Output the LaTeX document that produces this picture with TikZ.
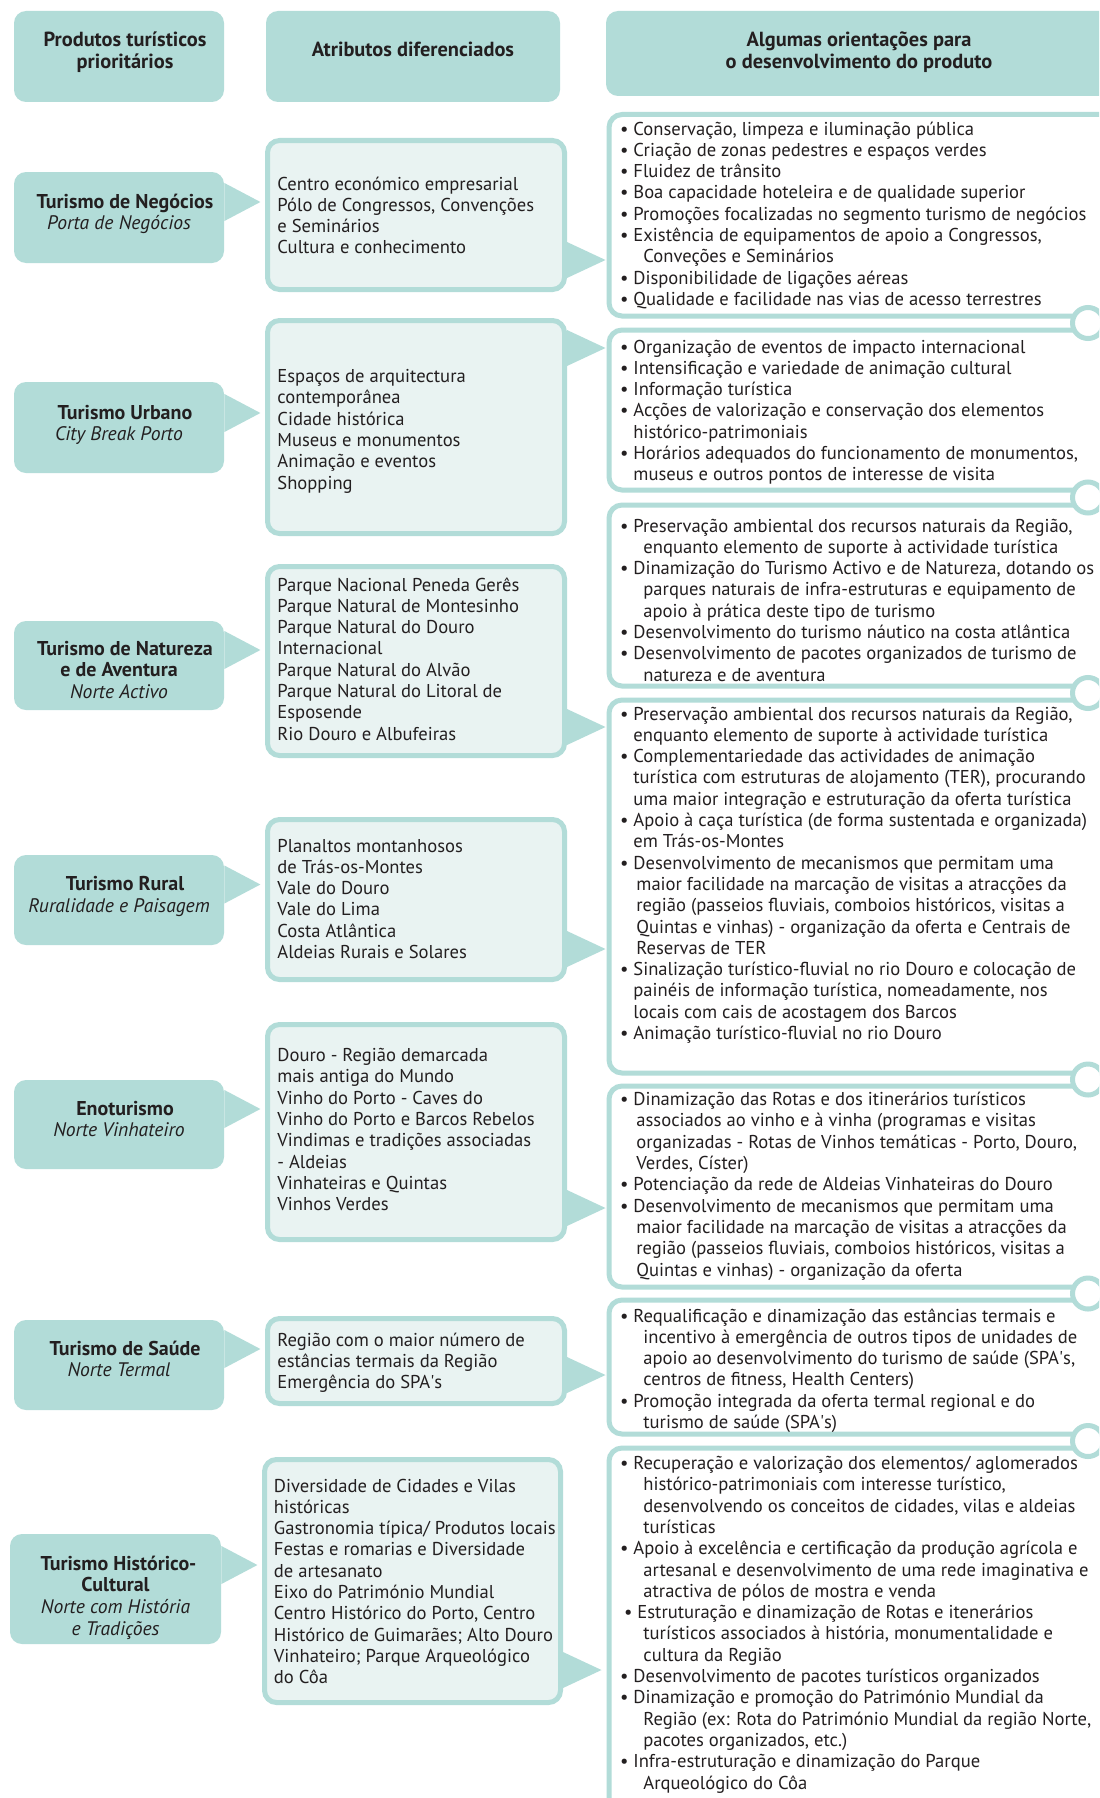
\documentclass[tikz,border=0pt]{standalone}
\usepackage{fontspec}
\setmainfont{PT Sans}
\usetikzlibrary{fit}
\definecolor{teal1}{RGB}{178,220,216}
\definecolor{pale}{RGB}{233,243,242}
\definecolor{ink}{RGB}{35,31,32}
% bullet hanging left of the text start, and continuation indents
\newcommand\bpt{\noindent\llap{\textbullet\hspace{2.5pt}}}
\newcommand\indt[1]{\noindent\hspace*{#1}}
\newcommand\prodname[1]{{\bfseries\fontsize{10}{10.9}\selectfont #1}}
\newcommand\prodtag[1]{{\itshape #1}}
\newcommand\spas{SPA\textquotesingle s}
\begin{document}
\begin{tikzpicture}[x=0.5pt,y=-0.5pt,
  hdr/.style={fill=teal1, rounded corners=6pt, inner sep=0pt},
  prod/.style={fill=teal1, rounded corners=6pt, inner sep=0pt},
  attr/.style={draw=teal1, fill=pale, line width=2.5pt, rounded corners=6pt, inner sep=0pt},
  guide/.style={draw=teal1, fill=white, line width=2.5pt, rounded corners=6.5pt, inner sep=0pt},
  ring/.style={circle, draw=teal1, fill=white, line width=2.5pt, minimum size=15.5pt, inner sep=0pt},
  ptr/.style={fill=teal1},
  % multi-line nodes: the base anchor sits on the baseline of the last line
  htxt/.style={font=\bfseries\fontsize{10.2}{10.75}\selectfont, text=ink, align=center, anchor=base, inner sep=0pt},
  ptxt/.style={font=\fontsize{9.8}{10.9}\selectfont, text=ink, align=center, anchor=base, inner sep=0pt},
  btxt/.style={font=\fontsize{9.3}{10.65}\selectfont, text=ink, align=left, anchor=base west, inner sep=0pt},
]
\useasboundingbox[fill=white] (0,0) rectangle (1099,1798);
\begin{scope}
\clip (0,0) rectangle (1099,1798);

% ---------- column headers
\node[hdr, fit={(14,11)(224,102)}] (h1) {};
\node[hdr, fit={(266,11)(560,102)}] (h2) {};
\node[hdr, fit={(606,11)(1130,96)}] (h3) {};
\node[htxt] (h1t) at (125,68.5) {Produtos turísticos\\prioritários};
\node[htxt] (h2t) at (413,57) {Atributos diferenciados};
\node[htxt] (h3t) at (859,68.5) {Algumas orientações para\\o desenvolvimento do produto};

% ---------- guideline boxes (right column)
\node[guide, fit={(609,114.5)(1130,316)}] (r1) {};
\node[guide, fit={(609,330)(1130,490)}] (r2) {};
\node[guide, fit={(609,505)(1130,686)}] (r3) {};
\node[guide, fit={(609,700)(1130,1073)}] (r4) {};
\node[guide, fit={(609,1086)(1130,1287)}] (r5) {};
\node[guide, fit={(609,1300)(1130,1434)}] (r6) {};
\node[guide, fit={(609,1448)(1130,1850)}] (r7) {};
% binder rings joining the boxes
\node[ring] (j1) at (1088,323) {};
\node[ring] (j2) at (1088,497.5) {};
\node[ring] (j3) at (1088,693) {};
\node[ring] (j4) at (1088,1079.5) {};
\node[ring] (j5) at (1088,1293.5) {};
\node[ring] (j6) at (1088,1441) {};

% ---------- product boxes (left column)
\node[prod, fit={(14,172)(224,263)}] (p1) {};
\node[prod, fit={(14,382)(224,473)}] (p2) {};
\node[prod, fit={(14,621)(224,710)}] (p3) {};
\node[prod, fit={(14,855)(224,945)}] (p4) {};
\node[prod, fit={(14,1080)(224,1169)}] (p5) {};
\node[prod, fit={(14,1320)(224,1410)}] (p6) {};
\node[prod, fit={(10,1534)(221,1644)}] (p7) {};
\foreach \p/\y in {p1/183, p2/394, p3/631, p4/865.5, p5/1090, p6/1330, p7/1546}
  \fill[ptr] (\p.east |- 0,\y) -- ++(36,19) -- ++(-36,19) -- cycle;

% ---------- attribute boxes (middle column)
\node[attr, fit={(267.5,140.5)(564.5,289.5)}] (m1) {};
\node[attr, fit={(267.5,320.5)(564.5,533.5)}] (m2) {};
\node[attr, fit={(267.5,566.5)(564.5,755.5)}] (m3) {};
\node[attr, fit={(267.5,819.5)(564.5,979.5)}] (m4) {};
\node[attr, fit={(267.5,1024.5)(564.5,1239.5)}] (m5) {};
\node[attr, fit={(267.5,1318.5)(564.5,1403.5)}] (m6) {};
\node[attr, fit={(264.5,1459.5)(560.5,1702.5)}] (m7) {};
\foreach \m/\y in {m1/242, m2/330, m3/709, m4/931, m5/1190, m6/1357, m7/1652}
  \fill[ptr] (\m.east |- 0,\y) -- ++(38.5,18) -- ++(-38.5,18) -- cycle;

% ---------- product names
\node[ptxt] (p1t) at (119,229.8) {\prodname{\hspace*{6pt}Turismo de Negócios}\\\prodtag{Porta de Negócios}};
\node[ptxt] (p2t) at (119,440.8) {\prodname{\hspace*{6pt}Turismo Urbano}\\\prodtag{City Break Porto}};
\node[ptxt] (p3t) at (119,698.6) {\prodname{\hspace*{6pt}Turismo de Natureza}\\\prodname{e de Aventura}\\\prodtag{Norte Activo}};
\node[ptxt] (p4t) at (119,912.3) {\prodname{\hspace*{6pt}Turismo Rural}\\\prodtag{Ruralidade e Paisagem}};
\node[ptxt] (p5t) at (119,1136.8) {\prodname{\hspace*{6pt}Enoturismo}\\\prodtag{Norte Vinhateiro}};
\node[ptxt] (p6t) at (119,1376.8) {\prodname{\hspace*{6pt}Turismo de Saúde}\\\prodtag{Norte Termal}};
\node[ptxt] (p7t) at (115.5,1635.4) {\prodname{\hspace*{3pt}Turismo Histórico-}\\\prodname{Cultural}\\\prodtag{Norte com História}\\\prodtag{e Tradições}};

% ---------- attributes
\node[btxt] (m1t) at (277,253.9) {Centro económico empresarial\\Pólo de Congressos, Convenções\\e Seminários\\Cultura e conhecimento};
\node[btxt] (m2t) at (277,489) {Espaços de arquitectura\\contemporânea\\Cidade histórica\\Museus e monumentos\\Animação e eventos\\Shopping};
\node[btxt] (m3t) at (277,740.1) {Parque Nacional Peneda Gerês\\Parque Natural de Montesinho\\Parque Natural do Douro\\Internacional\\Parque Natural do Alvão\\Parque Natural do Litoral de\\Esposende\\Rio Douro e Albufeiras};
\node[btxt] (m4t) at (277,958.5) {Planaltos montanhosos\\de Trás-os-Montes\\Vale do Douro\\Vale do Lima\\Costa Atlântica\\Aldeias Rurais e Solares};
\node[btxt] (m5t) at (277,1210.6) {Douro - Região demarcada\\mais antiga do Mundo\\Vinho do Porto - Caves do\\Vinho do Porto e Barcos Rebelos\\Vindimas e tradições associadas\\- Aldeias\\Vinhateiras e Quintas\\Vinhos Verdes};
\node[btxt] (m6t) at (277,1388.6) {Região com o maior número de\\estâncias termais da Região\\Emergência do \spas};
\node[btxt] (m7t) at (273.5,1683.7) {Diversidade de Cidades e Vilas\\históricas\\Gastronomia típica/ Produtos locais\\Festas e romarias e Diversidade\\de artesanato\\Eixo do Património Mundial\\Centro Histórico do Porto, Centro\\Histórico de Guimarães; Alto Douro\\Vinhateiro; Parque Arqueológico\\do Côa};

% ---------- guidelines
\node[btxt] (r1t) at (633,305.4) {\bpt Conservação, limpeza e iluminação pública\\
\bpt Criação de zonas pedestres e espaços verdes\\
\bpt Fluidez de trânsito\\
\bpt Boa capacidade hoteleira e de qualidade superior\\
\bpt Promoções focalizadas no segmento turismo de negócios\\
\bpt Existência de equipamentos de apoio a Congressos,\\
\indt{5pt}Conveções e Seminários\\
\bpt Disponibilidade de ligações aéreas\\
\bpt Qualidade e facilidade nas vias de acesso terrestres};

\node[btxt] (r2t) at (633,480.8) {\bpt Organização de eventos de impacto internacional\\
\bpt Intensificação e variedade de animação cultural\\
\bpt Informação turística\\
\bpt Acções de valorização e conservação dos elementos\\
histórico-patrimoniais\\
\bpt Horários adequados do funcionamento de monumentos,\\
museus e outros pontos de interesse de visita};

\node[btxt] (r3t) at (633,681.1) {\bpt Preservação ambiental dos recursos naturais da Região,\\
\indt{5pt}enquanto elemento de suporte à actividade turística\\
\bpt Dinamização do Turismo Activo e de Natureza, dotando os\\
\indt{5pt}parques naturais de infra-estruturas e equipamento de\\
\indt{5pt}apoio à prática deste tipo de turismo\\
\bpt Desenvolvimento do turismo náutico na costa atlântica\\
\bpt Desenvolvimento de pacotes organizados de turismo de\\
\indt{5pt}natureza e de aventura};

\node[btxt] (r4t) at (633,1039.5) {\bpt Preservação ambiental dos recursos naturais da Região,\\
enquanto elemento de suporte à actividade turística\\
\bpt Complementariedade das actividades de animação\\
turística com estruturas de alojamento (TER), procurando\\
uma maior integração e estruturação da oferta turística\\
\bpt Apoio à caça turística (de forma sustentada e organizada)\\
em Trás-os-Montes\\
\bpt Desenvolvimento de mecanismos que permitam uma\\
\indt{1.5pt}maior facilidade na marcação de visitas a atracções da\\
\indt{1.5pt}região (passeios fluviais, comboios históricos, visitas a\\
\indt{1.5pt}Quintas e vinhas) - organização da oferta e Centrais de\\
\indt{1.5pt}Reservas de TER\\
\bpt Sinalização turístico-fluvial no rio Douro e colocação de\\
painéis de informação turística, nomeadamente, nos\\
locais com cais de acostagem dos Barcos\\
\bpt Animação turístico-fluvial no rio Douro};

\node[btxt] (r5t) at (633,1276) {\bpt Dinamização das Rotas e dos itinerários turísticos\\
\indt{1.5pt}associados ao vinho e à vinha (programas e visitas\\
\indt{1.5pt}organizadas - Rotas de Vinhos temáticas - Porto, Douro,\\
\indt{1.5pt}Verdes, Císter)\\
\bpt Potenciação da rede de Aldeias Vinhateiras do Douro\\
\bpt Desenvolvimento de mecanismos que permitam uma\\
\indt{1.5pt}maior facilidade na marcação de visitas a atracções da\\
\indt{1.5pt}região (passeios fluviais, comboios históricos, visitas a\\
\indt{1.5pt}Quintas e vinhas) - organização da oferta};

\node[btxt] (r6t) at (633,1428.5) {\bpt Requalificação e dinamização das estâncias termais e\\
\indt{5pt}incentivo à emergência de outros tipos de unidades de\\
\indt{5pt}apoio ao desenvolvimento do turismo de saúde (\spas,\\
\indt{5pt}centros de fitness, Health Centers)\\
\bpt Promoção integrada da oferta termal regional e do\\
\indt{5pt}turismo de saúde (\spas)};

\node[btxt] (r7t) at (633,1789) {\bpt Recuperação e valorização dos elementos/ aglomerados\\
\indt{5pt}histórico-patrimoniais com interesse turístico,\\
\indt{5pt}desenvolvendo os conceitos de cidades, vilas e aldeias\\
\indt{5pt}turísticas\\
\bpt Apoio à excelência e certificação da produção agrícola e\\
\indt{5pt}artesanal e desenvolvimento de uma rede imaginativa e\\
\indt{5pt}atractiva de pólos de mostra e venda\\
\indt{2pt}\bpt Estruturação e dinamização de Rotas e itenerários\\
\indt{5pt}turísticos associados à história, monumentalidade e\\
\indt{5pt}cultura da Região\\
\bpt Desenvolvimento de pacotes turísticos organizados\\
\bpt Dinamização e promoção do Património Mundial da\\
\indt{5pt}Região (ex: Rota do Património Mundial da região Norte,\\
\indt{5pt}pacotes organizados, etc.)\\
\bpt Infra-estruturação e dinamização do Parque\\
\indt{5pt}Arqueológico do Côa};
\end{scope}
\end{tikzpicture}
\end{document}
